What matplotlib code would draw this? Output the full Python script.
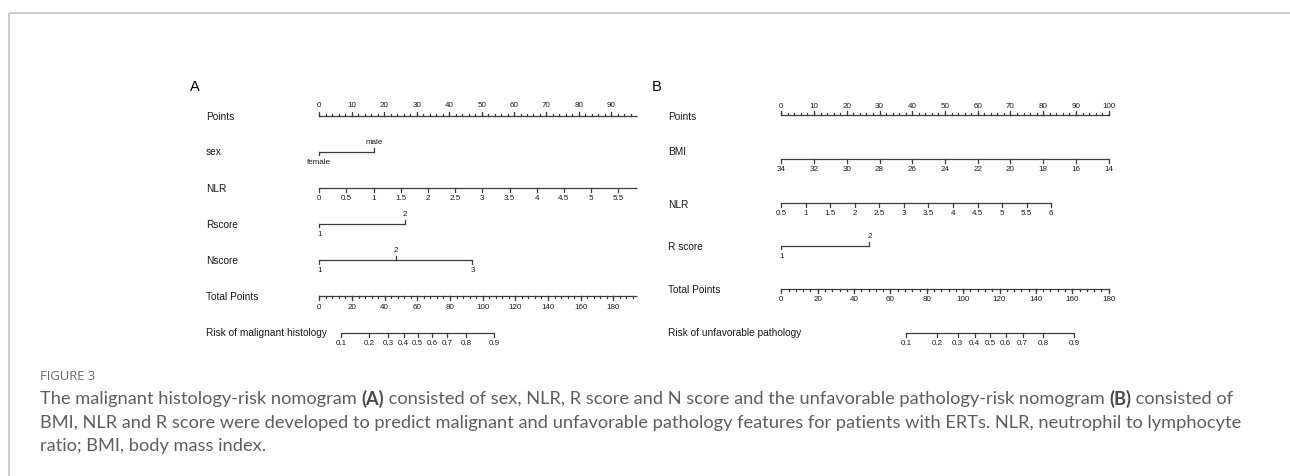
import matplotlib
matplotlib.use("Agg")
import matplotlib.pyplot as plt

W, H, DPI = 1290, 477, 100

# ---------------- Panel A: malignant histology-risk nomogram ----------------
a_points_ticks = [0, 10, 20, 30, 40, 50, 60, 70, 80, 90]
a_points_max = 97.8

a_sex_levels = ["female", "male"]
a_sex_points = [0.0, 16.9]

a_nlr_ticks = [0, 0.5, 1, 1.5, 2, 2.5, 3, 3.5, 4, 4.5, 5, 5.5]
a_nlr_range = [0.0, 5.84]
a_nlr_points = [0.0, 97.8]

a_rscore_levels = ["1", "2"]
a_rscore_points = [0.0, 26.3]

a_nscore_levels = ["1", "2", "3"]
a_nscore_points = [0.0, 23.6, 47.2]

a_total_ticks = [0, 20, 40, 60, 80, 100, 120, 140, 160, 180]
a_total_max = 194.3

a_risk_ticks = ["0.1", "0.2", "0.3", "0.4", "0.5", "0.6", "0.7", "0.8", "0.9"]
a_risk_total = [13.3, 30.6, 42.1, 51.6, 60.3, 68.9, 78.4, 89.9, 107.2]

# ---------------- Panel B: unfavorable pathology-risk nomogram ----------------
b_points_ticks = [0, 10, 20, 30, 40, 50, 60, 70, 80, 90, 100]
b_points_max = 100.0

b_bmi_ticks = [34, 32, 30, 28, 26, 24, 22, 20, 18, 16, 14]
b_bmi_range = [34, 14]
b_bmi_points = [0.0, 100.0]

b_nlr_ticks = [0.5, 1, 1.5, 2, 2.5, 3, 3.5, 4, 4.5, 5, 5.5, 6]
b_nlr_range = [0.5, 6]
b_nlr_points = [0.0, 82.4]

b_rscore_levels = ["1", "2"]
b_rscore_points = [0.0, 26.9]

b_total_ticks = [0, 20, 40, 60, 80, 100, 120, 140, 160, 180]
b_total_max = 180.0

b_risk_ticks = ["0.1", "0.2", "0.3", "0.4", "0.5", "0.6", "0.7", "0.8", "0.9"]
b_risk_total = [68.6, 85.7, 97.0, 106.3, 114.9, 123.4, 132.7, 144.0, 161.1]

# ---------------- styling ----------------
plt.rcParams["font.family"] = ["Liberation Sans", "DejaVu Sans"]
LINE = "#3c3c3c"
TXT = "#1a1a1a"
LW = 0.9
ROW_FS = 7.3
TICK_FS = 5.8
MAJ, MIN = 3.6, 1.8

fig = plt.figure(figsize=(W / DPI, H / DPI), dpi=DPI)
base = fig.add_axes([0, 0, 1, 1])
base.set_xlim(0, W)
base.set_ylim(H, 0)
base.axis("off")

# page frame
base.plot([9, W], [14, 14], color="#c0c0c0", lw=1.1, solid_capstyle="butt")
base.plot([9, 9], [14, H], color="#c0c0c0", lw=1.1, solid_capstyle="butt")


def panel_axes(x0, x1, pmax):
    ax = fig.add_axes([x0 / W, 0, (x1 - x0) / W, 1])
    ax.set_xlim(0, pmax)
    ax.set_ylim(H, 0)
    ax.axis("off")
    ax.patch.set_alpha(0)
    return ax


def lin(v, vr, pr):
    return pr[0] + (v - vr[0]) * (pr[1] - pr[0]) / (vr[1] - vr[0])


def scale_row(ax, y, xs, labels, above, x_from=None, x_to=None, minor=None, off=10.0):
    lo = min(xs) if x_from is None else x_from
    hi = max(xs) if x_to is None else x_to
    ax.plot([lo, hi], [y, y], color=LINE, lw=LW, clip_on=False, solid_capstyle="butt")
    if minor is not None:
        for m in minor:
            d = -MIN if above is True else MIN
            ax.plot([m, m], [y, y + d], color=LINE, lw=LW, clip_on=False)
    for i, (x, lab) in enumerate(zip(xs, labels)):
        up = above[i] if isinstance(above, (list, tuple)) else above
        d = -MAJ if up else MAJ
        ax.plot([x, x], [y, y + d], color=LINE, lw=LW, clip_on=False)
        ax.text(x, y - off if up else y + off, lab, ha="center", va="center",
                fontsize=TICK_FS, color=TXT, clip_on=False)


def row_label(x, y, s):
    base.text(x, y, s, ha="left", va="center", fontsize=ROW_FS, color=TXT)


# ---------------- draw panel A ----------------
axA = panel_axes(319.3, 636.7, a_points_max)
base.text(190, 87, "A", ha="left", va="center", fontsize=10.5, color="black")
rows_a = [116.7, 152.5, 189.0, 224.6, 261.0, 297.3, 334.0]
lab_x_a = 206
for y, s in zip(rows_a, ["Points", "sex", "NLR", "Rscore", "Nscore",
                         "Total Points", "Risk of malignant histology"]):
    row_label(lab_x_a, y - (1.3 if s.startswith("Risk") else 0), s)

scale_row(axA, rows_a[0], a_points_ticks, [str(t) for t in a_points_ticks], True,
          x_from=0, x_to=a_points_max,
          minor=[m for m in range(0, int(a_points_max) + 1, 2)], off=11.5)
scale_row(axA, rows_a[1], a_sex_points, a_sex_levels, [False, True])
scale_row(axA, rows_a[2], [lin(v, a_nlr_range, a_nlr_points) for v in a_nlr_ticks],
          [f"{v:g}" for v in a_nlr_ticks], False, x_from=a_nlr_points[0], x_to=a_nlr_points[1])
scale_row(axA, rows_a[3], a_rscore_points, a_rscore_levels, [False, True])
scale_row(axA, rows_a[4], a_nscore_points, a_nscore_levels, [False, True, False])
tA = a_points_max / a_total_max
scale_row(axA, rows_a[5], [t * tA for t in a_total_ticks], [str(t) for t in a_total_ticks],
          False, x_from=0, x_to=a_points_max,
          minor=[m * tA for m in range(0, int(a_total_max) + 1, 4)], off=10.5)
scale_row(axA, rows_a[6], [t * tA for t in a_risk_total], a_risk_ticks, False)

# ---------------- draw panel B ----------------
axB = panel_axes(781.3, 1108.7, b_points_max)
base.text(652, 87, "B", ha="left", va="center", fontsize=10.5, color="black")
rows_b = [116.0, 160.0, 204.0, 246.7, 290.0, 334.0]
lab_x_b = 668
label_y_b = [116.7, 152.0, 205.0, 246.7, 290.0, 332.7]
for y, s in zip(label_y_b, ["Points", "BMI", "NLR", "R score", "Total Points",
                            "Risk of unfavorable pathology"]):
    row_label(lab_x_b, y, s)

scale_row(axB, rows_b[0], b_points_ticks, [str(t) for t in b_points_ticks], True,
          x_from=0, x_to=b_points_max,
          minor=[m for m in range(0, int(b_points_max) + 1, 2)], off=9.8)
scale_row(axB, rows_b[1], [lin(v, b_bmi_range, b_bmi_points) for v in b_bmi_ticks],
          [str(v) for v in b_bmi_ticks], False)
scale_row(axB, rows_b[2], [lin(v, b_nlr_range, b_nlr_points) for v in b_nlr_ticks],
          [f"{v:g}" for v in b_nlr_ticks], False)
scale_row(axB, rows_b[3], b_rscore_points, b_rscore_levels, [False, True])
tB = b_points_max / b_total_max
scale_row(axB, rows_b[4], [t * tB for t in b_total_ticks], [str(t) for t in b_total_ticks],
          False, x_from=0, x_to=b_points_max,
          minor=[m * tB for m in range(0, int(b_total_max) + 1, 4)])
scale_row(axB, rows_b[5], [t * tB for t in b_risk_total], b_risk_ticks, False)

# ---------------- caption ----------------
renderer = fig.canvas.get_renderer()
CAP_FONT = ["Lato", "DejaVu Sans"]
CAP_COL = "#5e5e5e"


def width_of(s, size, weight):
    t1 = base.text(0, 0, "|" + s + "|", fontsize=size, fontweight=weight, family=CAP_FONT)
    t2 = base.text(0, 0, "||", fontsize=size, fontweight=weight, family=CAP_FONT)
    w = t1.get_window_extent(renderer).width - t2.get_window_extent(renderer).width
    t1.remove()
    t2.remove()
    return w


caption = [
    [("The malignant histology-risk nomogram ", "normal"), ("(A)", "bold"),
     (" consisted of sex, NLR, R score and N score and the unfavorable pathology-risk nomogram ", "normal"),
     ("(B)", "bold"), (" consisted of", "normal")],
    [("BMI, NLR and R score were developed to predict malignant and unfavorable pathology "
      "features for patients with ERTs. NLR, neutrophil to lymphocyte", "normal")],
    [("ratio; BMI, body mass index.", "normal")],
]

ref = 10.0
w_ref = sum(width_of(s, ref, wt) for s, wt in caption[0])
cap_fs = ref * 1196.0 / w_ref

base.text(40, 377, "FIGURE 3", ha="left", va="center", fontsize=9.4,
          color="#6a6a6a", family=["Open Sans", "DejaVu Sans"])
for y, segs in zip([399, 423, 446], caption):
    x = 40.0
    for s, wt in segs:
        base.text(x, y, s, ha="left", va="center", fontsize=cap_fs, fontweight=wt,
                  color="#4a4a4a" if wt == "bold" else CAP_COL, family=CAP_FONT)
        x += width_of(s, cap_fs, wt)

fig.savefig("out.png", dpi=DPI)
